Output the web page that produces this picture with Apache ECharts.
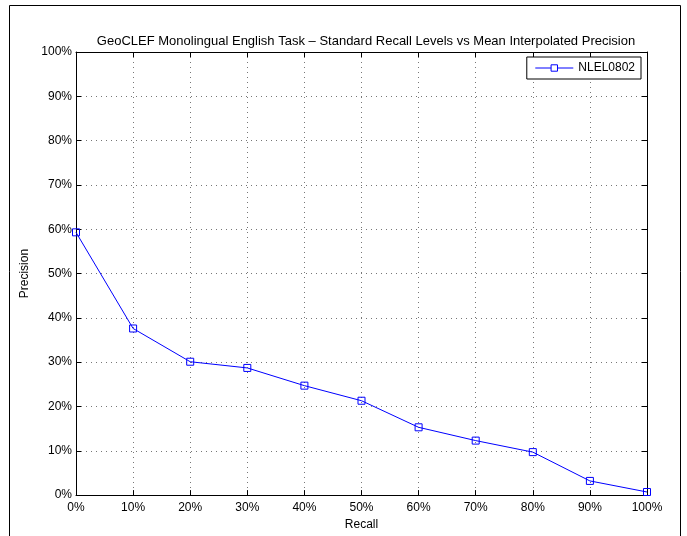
<!DOCTYPE html>
<html>
<head>
<meta charset="utf-8">
<script src="https://cdn.jsdelivr.net/npm/echarts@6/dist/echarts.min.js"></script>
<style>html,body{margin:0;padding:0;background:#fff}#c{width:687px;height:536px}</style>
</head>
<body>
<div id="c"></div>
<script>
var recall = [0, 10, 20, 30, 40, 50, 60, 70, 80, 90, 100];
var precision = [59.3, 37.6, 30.1, 28.7, 24.7, 21.3, 15.3, 12.3, 9.7, 3.2, 0.7];
var seriesName = 'NLEL0802';
var titleText = 'GeoCLEF Monolingual English Task \u2013 Standard Recall Levels vs Mean Interpolated Precision';

var chart = echarts.init(document.getElementById('c'), null, {renderer: 'canvas'});
var font = 'Liberation Sans, Arial, Helvetica, sans-serif';
var pts = recall.map(function (r, i) { return [r, precision[i]]; });
var gridLine = {show: true, lineStyle: {color: '#777', type: [1, 4], width: 1}};
var axisBase = {
  type: 'value', min: 0, max: 100, interval: 10,
  axisLine: {show: true, onZero: false, lineStyle: {color: '#000', width: 1}},
  axisTick: {show: true, inside: true, length: 5, lineStyle: {color: '#000'}}
};
chart.setOption({
  animation: false,
  backgroundColor: '#fff',
  title: {
    text: titleText, left: 361, top: 30, textAlign: 'center',
    textStyle: {fontFamily: font, fontSize: 13, fontWeight: 'normal', color: '#000'}
  },
  legend: {
    data: [{name: seriesName}], right: 46, top: 57,
    itemWidth: 38, itemHeight: 8, itemGap: 4,
    padding: [5, 6, 5, 8],
    borderColor: '#000', borderWidth: 1, backgroundColor: '#fff',
    lineStyle: {width: 1, color: '#0000ff'},
    itemStyle: {color: '#fff', borderColor: '#0000ff', borderWidth: 1},
    textStyle: {fontFamily: font, fontSize: 12, color: '#000'}
  },
  grid: {left: 76, right: 40, top: 52, bottom: 34, containLabel: false},
  xAxis: [
    Object.assign({}, axisBase, {
      position: 'bottom', name: 'Recall', nameLocation: 'middle', nameGap: 21,
      nameTextStyle: {fontFamily: font, fontSize: 12, color: '#000'},
      axisLabel: {formatter: '{value}%', fontFamily: font, fontSize: 12, color: '#000', margin: 7},
      splitLine: gridLine
    }),
    Object.assign({}, axisBase, {position: 'top', axisLabel: {show: false}, splitLine: {show: false}})
  ],
  yAxis: [
    Object.assign({}, axisBase, {
      position: 'left', name: 'Precision', nameLocation: 'middle', nameGap: 43,
      nameTextStyle: {fontFamily: font, fontSize: 12, color: '#000'},
      axisLabel: {formatter: '{value}%', fontFamily: font, fontSize: 12, color: '#000', margin: 4},
      splitLine: gridLine
    }),
    Object.assign({}, axisBase, {position: 'right', axisLabel: {show: false}, splitLine: {show: false}})
  ],
  graphic: [{
    type: 'rect', left: 7, top: 3, z: -10, silent: true,
    shape: {width: 671, height: 540},
    style: {fill: 'none', stroke: '#000', lineWidth: 1}
  }],
  series: [{
    name: seriesName, type: 'line', data: pts,
    xAxisIndex: 0, yAxisIndex: 0,
    symbol: 'rect', symbolSize: 7, showAllSymbol: true,
    lineStyle: {color: '#0000ff', width: 1},
    itemStyle: {color: 'rgba(255,255,255,0)', borderColor: '#0000ff', borderWidth: 1},
    emphasis: {disabled: true}
  }]
});
</script>
</body>
</html>
